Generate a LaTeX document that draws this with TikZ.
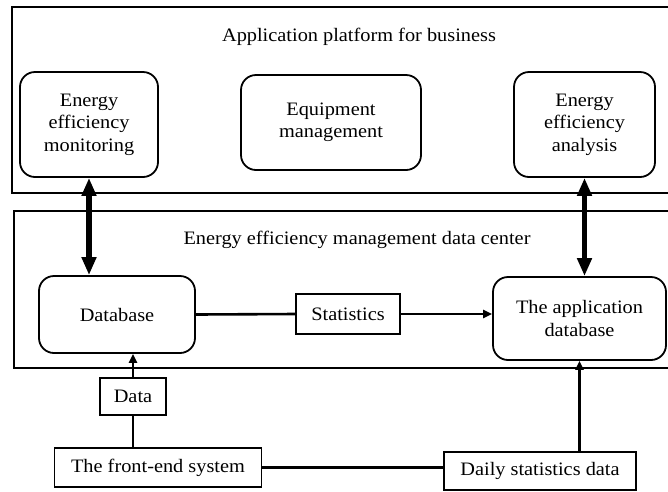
\documentclass[tikz,border=0pt]{standalone}
\usepackage{fontspec}
\setmainfont{Liberation Serif}[FakeStretch=1.07]
\usetikzlibrary{arrows.meta}
\begin{document}
\begin{tikzpicture}[x=1pt,y=-1pt,
  every node/.style={font=\fontsize{19}{22.5}\selectfont, inner sep=0pt, align=center},
  outerbox/.style={draw, line width=2.2pt},
  rbox/.style={draw, line width=1.8pt, rounded corners=15pt},
  sbox/.style={draw, line width=1.8pt},
  thickarrow/.style={line width=5.5pt, {Triangle[length=18pt,width=14pt]}-{Triangle[length=18pt,width=14pt]}},
  thinarrow/.style={line width=2.6pt, -{Triangle[length=9pt,width=8pt]}},
  plainline/.style={line width=2.6pt}]
\useasboundingbox (0,0) rectangle (668,491);
\clip (0,0) rectangle (668,491);
\fill[white] (0,0) rectangle (668,491);
% outer boxes
\draw[outerbox] (12,7) rectangle (690,193);
\draw[outerbox] (14,211) rectangle (690,368);
\node (t1) at (359,37) {Application platform for business};
\node (t2) at (357,240) {Energy efficiency management data center};
% top boxes
\node[rbox, minimum width=138pt, minimum height=105pt] (mon) at (89,124.5) {Energy\\efficiency\\monitoring};
\node[rbox, minimum width=180pt, minimum height=95pt] (equ) at (331,122.5) {Equipment\\management};
\node[rbox, minimum width=141pt, minimum height=105pt] (ana) at (584.5,124.5) {Energy\\efficiency\\analysis};
% data center boxes
\node[rbox, minimum width=156pt, minimum height=77pt] (db) at (117,314.5) {Database};
\node[sbox, minimum width=104pt, minimum height=40pt] (stat) at (348,314) {Statistics};
\node[rbox, minimum width=173pt, minimum height=83pt] (appdb) at (579.5,318.5) {The application\\database};
% bottom boxes
\node[sbox, minimum width=66pt, minimum height=37pt] (data) at (133,396.5) {Data};
\node[sbox, minimum width=207pt, minimum height=39pt] (front) at (158,467.5) {The front-end system};
\node[sbox, minimum width=192pt, minimum height=38pt] (daily) at (540,471) {Daily statistics data};
% connectors
\draw[thickarrow] (mon.south) -- (db.north -| mon.south);
\draw[thickarrow] (ana.south) -- (appdb.north -| ana.south);
\draw[plainline] (db.east) -- (stat.west);
\draw[thinarrow] (stat.east) -- (appdb.west |- stat.east);
\draw[plainline] (front.north -| data.south) -- (data.south);
\draw[thinarrow] (data.north) -- (db.south -| data.north);
\draw[plainline] (front.east) -- (daily.west |- front.east);
\draw[thinarrow] (daily.north -| appdb.south) -- (appdb.south);
\end{tikzpicture}
\end{document}
